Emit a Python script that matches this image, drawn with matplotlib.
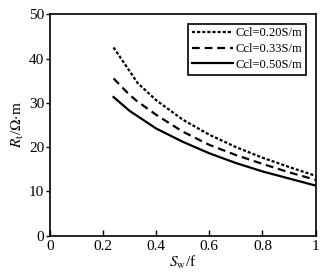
import matplotlib.pyplot as plt

plt.rcParams.update({
    "font.family": "Liberation Serif",
    "mathtext.fontset": "stix",
})

sw = [0.24, 0.30, 0.33, 0.40, 0.50, 0.60, 0.70, 0.80, 0.90, 1.00]
rt_020 = [42.5, 37.2, 34.5, 30.6, 26.2, 22.8, 20.0, 17.6, 15.5, 13.5]
rt_033 = [35.5, 31.8, 30.3, 27.3, 23.5, 20.5, 18.2, 16.2, 14.3, 12.6]
rt_050 = [31.3, 28.2, 27.0, 24.2, 21.2, 18.6, 16.4, 14.5, 12.9, 11.3]
labels = ["Ccl=0.20S/m", "Ccl=0.33S/m", "Ccl=0.50S/m"]

fig = plt.figure(figsize=(3.28, 2.74), dpi=100)
ax = fig.add_axes([0.1515, 0.140, 0.811, 0.808])

ax.plot(sw, rt_020, c='k', lw=1.6, linestyle=(0, (1.4, 0.9)), label=labels[0])
ax.plot(sw, rt_033, c='k', lw=1.6, linestyle=(0, (3.5, 2.2)), label=labels[1])
ax.plot(sw, rt_050, c='k', lw=1.6, linestyle='-', label=labels[2])

ax.set_xlim(0, 1)
ax.set_ylim(0, 50)
ax.set_xticks([0, 0.2, 0.4, 0.6, 0.8, 1])
ax.set_xticklabels(["0", "0.2", "0.4", "0.6", "0.8", "1"])
ax.set_yticks([0, 10, 20, 30, 40, 50])
ax.tick_params(axis='x', direction='in', length=4, width=1, labelsize=11, pad=3)
ax.tick_params(axis='y', direction='out', length=3, width=1, labelsize=11, pad=1)
for s in ax.spines.values():
    s.set_linewidth(1.2)

ax.set_xlabel("$S_\\mathrm{w}$/f", fontsize=11, labelpad=1)
ax.set_ylabel("$R_\\mathrm{t}$/$\\Omega$$\\cdot$m", fontsize=11, labelpad=2)

leg = ax.legend(loc='upper right', fontsize=9, handlelength=3.3, handletextpad=0.2,
                borderpad=0.3, labelspacing=0.3, fancybox=False, framealpha=1,
                borderaxespad=0.75)
leg.get_frame().set_edgecolor('k')
leg.get_frame().set_linewidth(1.2)

plt.savefig("out.png", dpi=100)
